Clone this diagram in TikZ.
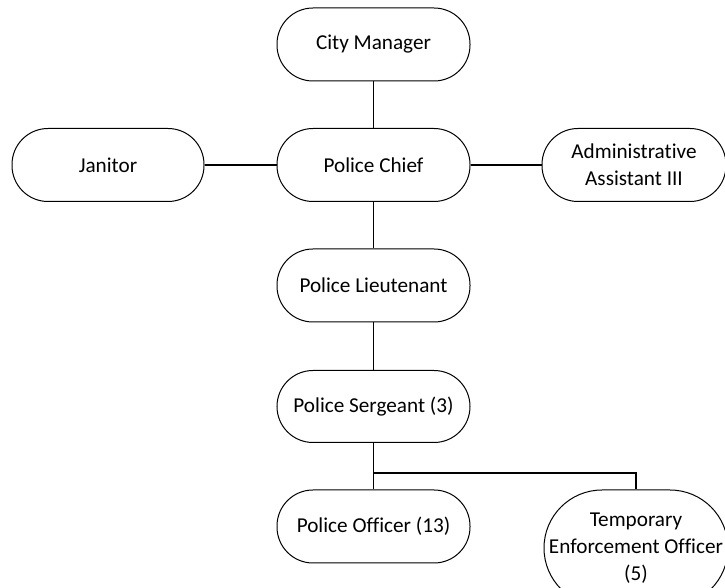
\documentclass[tikz,border=0pt]{standalone}
\usepackage{fontspec}
\setmainfont{Carlito}[Ligatures={NoCommon,NoContextual}]
\usetikzlibrary{calc}

\tikzset{post/.style={draw, rectangle, rounded corners=18pt, minimum width=96.5pt,
    minimum height=36.5pt, align=center, line width=0.5pt, inner sep=0pt,
    font=\fontsize{10.6}{13.6}\selectfont},
  link/.style={line width=0.8pt}}

\begin{document}
\begin{tikzpicture}[x=0.5pt,y=-0.5pt]
\useasboundingbox (0,0) rectangle (725,588);
\clip (0,0) rectangle (725,588);
\node[post] (cm) at (373.5,44.5) {City Manager};
\node[post] (pc) at (373.5,165) {Police Chief};
\node[post, minimum width=96pt] (jan) at (108,165) {Janitor};
\node[post, minimum width=92pt] (aa) at (634,165) {Administrative\\Assistant III};
\node[post] (lt) at (373.5,285.5) {Police Lieutenant};
\node[post, minimum height=36pt] (sg) at (373.5,406.5) {Police Sergeant (3)};
\node[post] (po) at (373.5,526.5) {Police Officer (13)};
\node[post, minimum width=92pt, minimum height=58pt, rounded corners=29pt] (teo)
  at (636,548) {Temporary\\Enforcement Officer\\(5)};
\coordinate (split) at (373.5,473);
% lines
\draw[link] (cm) -- (pc);
\draw[link] (jan) -- (pc);
\draw[link] (pc) -- (aa);
\draw[link] (pc) -- (lt);
\draw[link] (lt) -- (sg);
\draw[link] (sg) -- (split) -- (po);
\draw[link] (split) -| (teo);
\end{tikzpicture}
\end{document}
